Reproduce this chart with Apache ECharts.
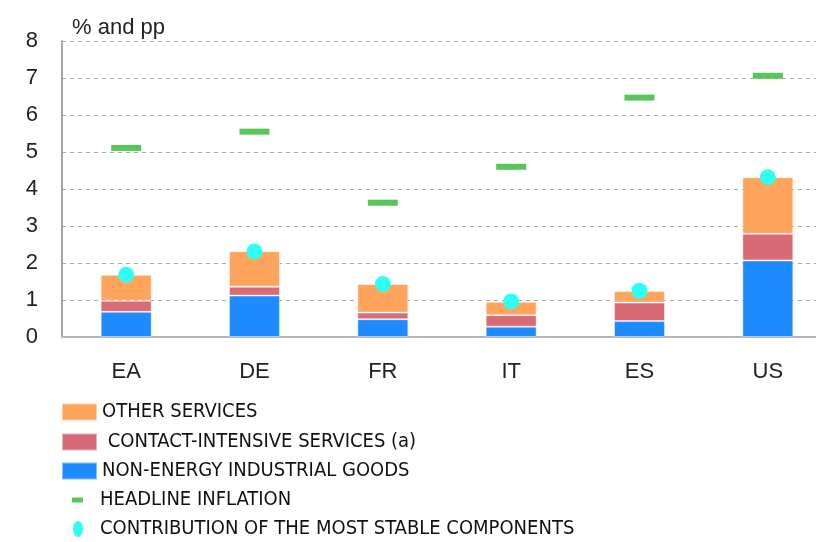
<!DOCTYPE html>
<html><head><meta charset="utf-8">
<script src="https://cdn.jsdelivr.net/npm/echarts@6/dist/echarts.min.js"></script>
<style>html,body{margin:0;padding:0;background:#fff}#c{width:816px;height:542px}</style>
</head><body><div id="c"></div>
<script>
const categories = ['EA','DE','FR','IT','ES','US'];
const nonEnergyGoods = [0.68,1.12,0.48,0.28,0.43,2.07];
const contactServices = [0.30,0.24,0.18,0.31,0.50,0.72];
const otherServices = [0.70,0.96,0.77,0.36,0.31,1.53];
const headline = [5.11,5.55,3.63,4.60,6.47,7.06];
const stableContribution = [1.68,2.31,1.43,0.96,1.25,4.32];
const yTicks = [0,1,2,3,4,5,6,7,8];

const names = ['OTHER SERVICES',' CONTACT-INTENSIVE SERVICES (a)','NON-ENERGY INDUSTRIAL GOODS','HEADLINE INFLATION','CONTRIBUTION OF THE MOST STABLE COMPONENTS'];
const colors = {orange:'#FFA45C', red:'#D96B77', blue:'#1E8CFF', green:'#59C659', cyan:'#2EFFF2'};
const mkLegend = (name, left, top, w, h, icon, pad) => ({
  data:[{name:name, icon:icon}], left:left, top:top, itemWidth:w, itemHeight:h, itemGap:0,
  textStyle:{fontFamily:'"Liberation Sans Narrow","DejaVu Sans Condensed",sans-serif', fontSize:20, color:'#111', padding:[0,0,0,pad]},
  selectedMode:false, padding:0
});
const barStyle = c => ({color:c, borderColor:'rgba(255,255,255,0.45)', borderWidth:1});

const chart = echarts.init(document.getElementById('c'));
chart.setOption({
  animation:false,
  title:{text:'% and pp', left:67, top:12, textStyle:{fontFamily:'Liberation Sans', fontSize:22, fontWeight:'normal', color:'#222'}},
  grid:{left:62, top:41, bottom:205, width:770, outerBoundsMode:'none'},
  legend:[
    mkLegend(names[0], 61, 402, 35, 17, 'rect', 0),
    mkLegend(names[1], 61, 432, 35, 17, 'rect', 0),
    mkLegend(names[2], 61, 461, 35, 17, 'rect', 0),
    mkLegend(names[3], 72, 490, 11, 5, 'rect', 12),
    mkLegend(names[4], 73, 519, 10, 16, 'path://M0,8a5,8 0 1,0 10,0a5,8 0 1,0 -10,0z', 12)
  ],
  xAxis:{type:'category', data:categories,
    axisLine:{lineStyle:{color:'#b5b5b5', width:2}},
    axisTick:{inside:true, length:8, lineStyle:{color:'#999', width:1.5}},
    axisLabel:{margin:24, fontFamily:'Liberation Sans', fontSize:22, color:'#222'}},
  yAxis:{type:'value', min:yTicks[0], max:yTicks[yTicks.length-1], interval:1,
    axisLine:{show:true, lineStyle:{color:'#888', width:1.5}},
    axisTick:{show:false},
    splitLine:{lineStyle:{color:'#aaa', type:[4,4], width:1}},
    axisLabel:{margin:24, fontFamily:'Liberation Sans', fontSize:22, color:'#222'}},
  series:[
    {name:names[2], type:'bar', stack:'s', data:nonEnergyGoods, barWidth:51, itemStyle:barStyle(colors.blue)},
    {name:names[1], type:'bar', stack:'s', data:contactServices, itemStyle:barStyle(colors.red)},
    {name:names[0], type:'bar', stack:'s', data:otherServices, itemStyle:barStyle(colors.orange)},
    {name:names[3], type:'scatter', data:headline, symbol:'rect', symbolSize:[30,6], itemStyle:{color:colors.green, opacity:1}, z:5},
    {name:names[4], type:'scatter', data:stableContribution, symbol:'circle', symbolSize:16, itemStyle:{color:colors.cyan, opacity:1}, z:6}
  ]
});
</script></body></html>
